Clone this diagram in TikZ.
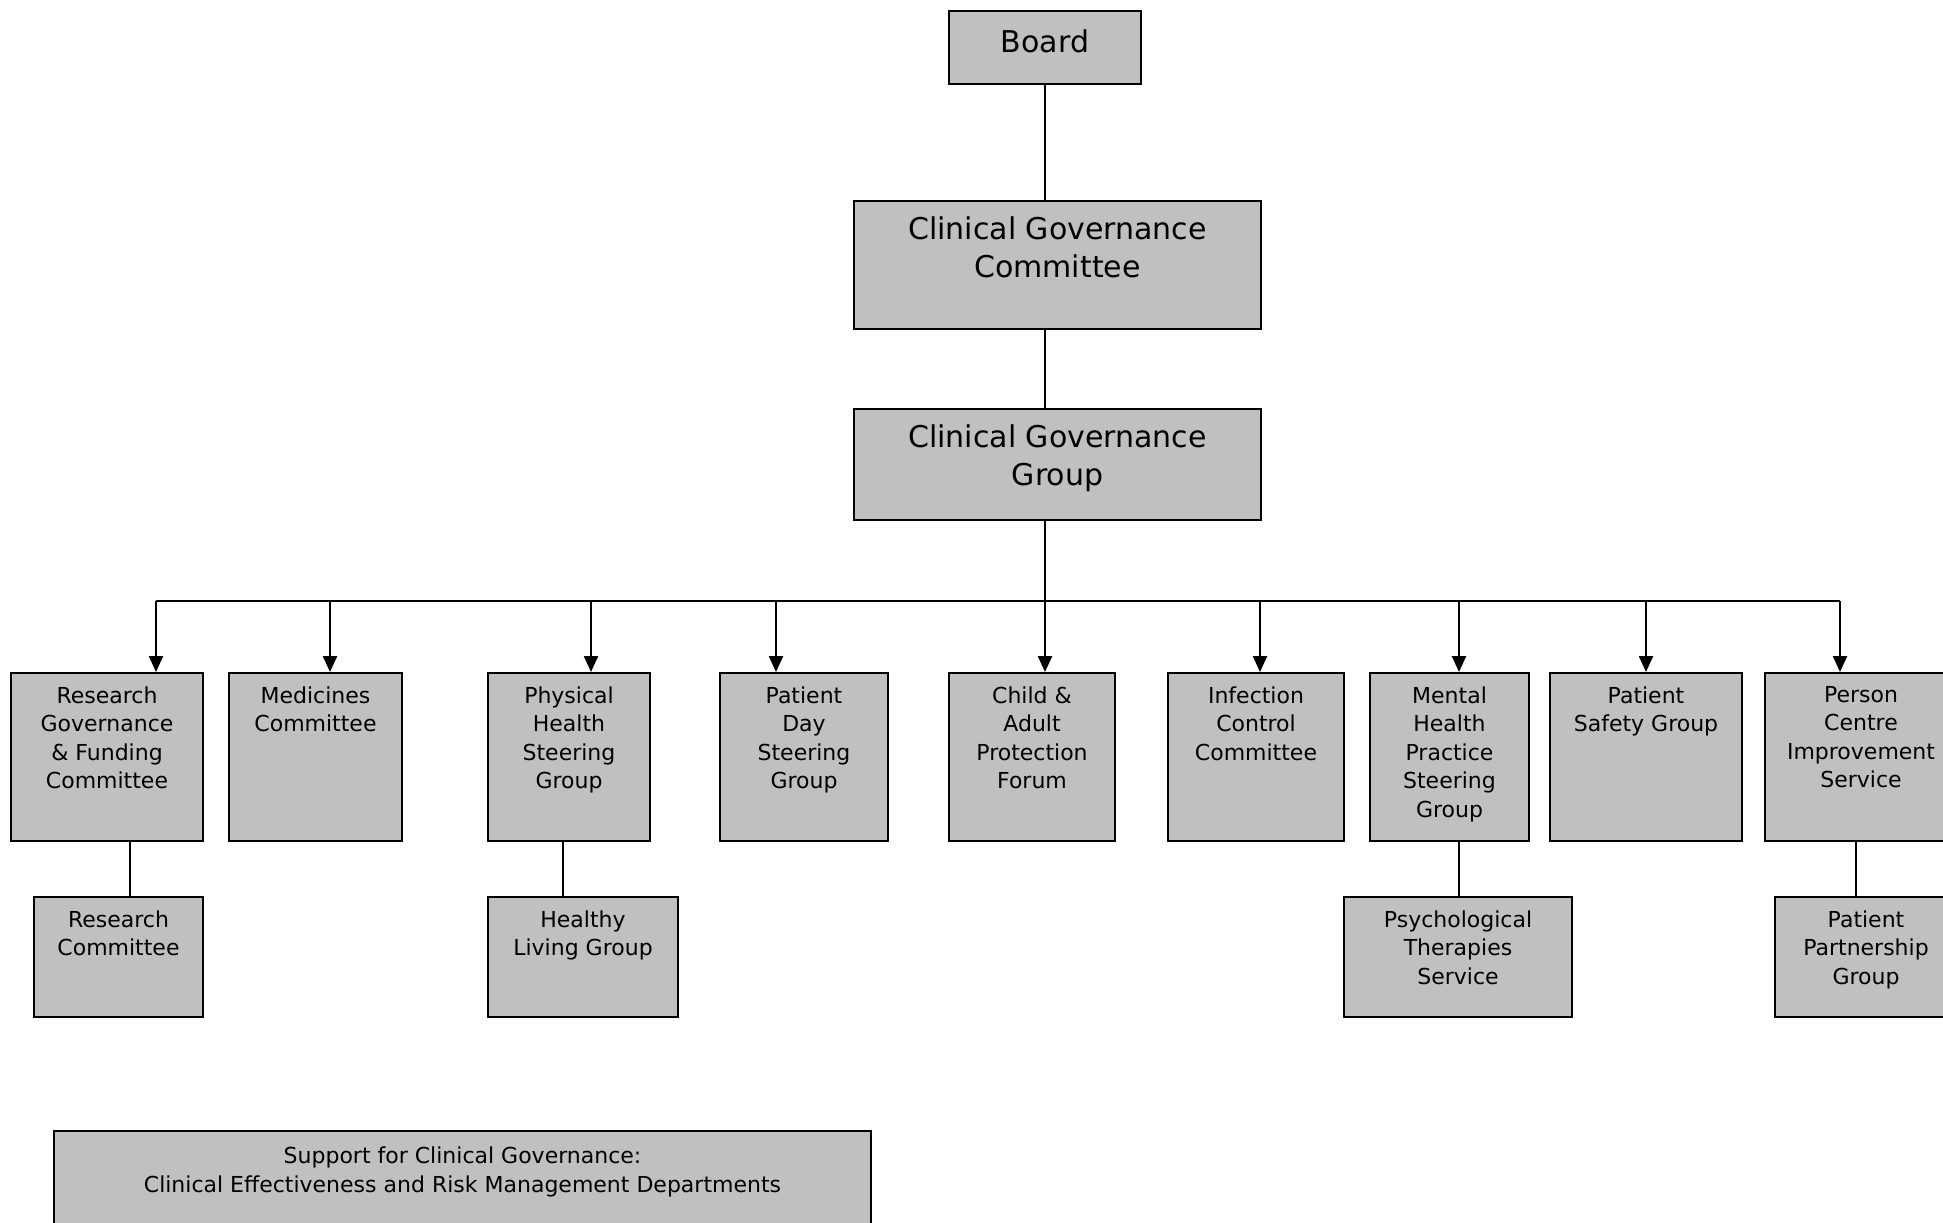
\documentclass[tikz,border=0pt]{standalone}
\usepackage{fontspec}
\setmainfont{DejaVu Sans}
\usetikzlibrary{arrows.meta}
\definecolor{boxgray}{HTML}{C0C0C0}
\begin{document}
\begin{tikzpicture}[x=0.5pt,y=-0.5pt,
  box/.style={draw=black, line width=1pt, fill=boxgray, inner sep=0pt, anchor=north west},
  txt/.style={anchor=north, align=center, inner sep=0pt, font=\fontsize{11pt}{14.25pt}\selectfont},
  bigtxt/.style={anchor=north, align=center, inner sep=0pt, font=\fontsize{15pt}{19.25pt}\selectfont},
  conn/.style={line width=0.75pt},
  subconn/.style={line width=0.65pt},
  busline/.style={line width=1.2pt},
  arr/.style={line width=1.2pt, -{Triangle[width=7pt,length=8pt]}}]
\useasboundingbox[fill=white] (0,0) rectangle (1943,1222);

% top boxes
\node[box, minimum width=96pt, minimum height=36.5pt] (board) at (948,10) {};
\node[bigtxt] (board-t) at ([yshift=-9.5pt]board.north) {Board};
\node[box, minimum width=203.5pt, minimum height=64pt] (cgc) at (853,200) {};
\node[bigtxt] (cgc-t) at ([yshift=-8pt]cgc.north) {Clinical Governance\\Committee};
\node[box, minimum width=203.5pt, minimum height=55.5pt] (cgg) at (853,408) {};
\node[bigtxt] (cgg-t) at ([yshift=-8pt]cgg.north) {Clinical Governance\\Group};

% row 1
\node[box, minimum width=96pt,   minimum height=84pt] (rgf) at (10,672) {};
\node[box, minimum width=86.5pt, minimum height=84pt] (med) at (228,672) {};
\node[box, minimum width=81pt,   minimum height=84pt] (phs) at (487,672) {};
\node[box, minimum width=84pt,   minimum height=84pt] (pds) at (719,672) {};
\node[box, minimum width=83pt,   minimum height=84pt] (cap) at (948,672) {};
\node[box, minimum width=88pt,   minimum height=84pt] (icc) at (1167,672) {};
\node[box, minimum width=79.5pt, minimum height=84pt] (mhp) at (1369,672) {};
\node[box, minimum width=96pt,   minimum height=84pt] (psg) at (1549,672) {};
\node[box, minimum width=96pt,   minimum height=84pt] (pci) at (1764,672) {};

\node[txt] (rgf-t) at ([yshift=-7pt]rgf.north) {Research\\Governance\\\& Funding\\Committee};
\node[txt] (med-t) at ([yshift=-7pt]med.north) {Medicines\\Committee};
\node[txt] (phs-t) at ([yshift=-7pt]phs.north) {Physical\\Health\\Steering\\Group};
\node[txt] (pds-t) at ([yshift=-7pt]pds.north) {Patient\\Day\\Steering\\Group};
\node[txt] (cap-t) at ([yshift=-7pt]cap.north) {Child \&\\Adult\\Protection\\Forum};
\node[txt] (icc-t) at ([yshift=-7pt]icc.north) {Infection\\Control\\Committee};
\node[txt] (mhp-t) at ([yshift=-7pt]mhp.north) {Mental\\Health\\Practice\\Steering\\Group};
\node[txt] (psg-t) at ([yshift=-7pt]psg.north) {Patient\\Safety Group};
\node[txt] (pci-t) at ([yshift=-7pt]pci.north) {Person\\Centre\\Improvement\\Service};

% row 2
\node[box, minimum width=84.5pt, minimum height=60pt] (rc)  at (33,896) {};
\node[box, minimum width=95pt,   minimum height=60pt] (hlg) at (487,896) {};
\node[box, minimum width=114pt,  minimum height=60pt] (ptg) at (1343,896) {};
\node[box, minimum width=91pt,   minimum height=60pt] (ppg) at (1774,896) {};

\node[txt] (rc-t)  at ([yshift=-7pt]rc.north)  {Research\\Committee};
\node[txt] (hlg-t) at ([yshift=-7pt]hlg.north) {Healthy\\Living Group};
\node[txt] (ptg-t) at ([yshift=-7pt]ptg.north) {Psychological\\Therapies\\Service};
\node[txt] (ppg-t) at ([yshift=-7pt]ppg.north) {Patient\\Partnership\\Group};

% bottom support box
\node[box, minimum width=408.5pt, minimum height=60pt] (sup) at (53,1130) {};
\node[txt, font=\fontsize{11pt}{14.5pt}\selectfont] (sup-t) at ([yshift=-8pt]sup.north) {Support for Clinical Governance:\\Clinical Effectiveness and Risk Management Departments};

% vertical spine
\coordinate (spine) at (1045,0);
\draw[conn] (board.south -| spine) -- (cgc.north -| spine);
\draw[conn] (cgc.south -| spine) -- (cgg.north -| spine);

% bus
\coordinate (b1) at (156,601);
\coordinate (b2) at (330,601);
\coordinate (b3) at (591,601);
\coordinate (b4) at (776,601);
\coordinate (b5) at (1045,601);
\coordinate (b6) at (1260,601);
\coordinate (b7) at (1459,601);
\coordinate (b8) at (1646,601);
\coordinate (b9) at (1840,601);
\draw[conn] (cgg.south -| b5) -- (b5);
\draw[busline] (b1) -- (b9);
\draw[arr] (b1) -- (rgf.north -| b1);
\draw[arr] (b2) -- (med.north -| b2);
\draw[arr] (b3) -- (phs.north -| b3);
\draw[arr] (b4) -- (pds.north -| b4);
\draw[arr] (b5) -- (cap.north -| b5);
\draw[arr] (b6) -- (icc.north -| b6);
\draw[arr] (b7) -- (mhp.north -| b7);
\draw[arr] (b8) -- (psg.north -| b8);
\draw[arr] (b9) -- (pci.north -| b9);

% sub connectors
\coordinate (s1) at (130,0);
\coordinate (s2) at (563,0);
\coordinate (s3) at (1459,0);
\coordinate (s4) at (1856,0);
\draw[subconn] (rgf.south -| s1) -- (rc.north -| s1);
\draw[subconn] (phs.south -| s2) -- (hlg.north -| s2);
\draw[subconn] (mhp.south -| s3) -- (ptg.north -| s3);
\draw[subconn] (pci.south -| s4) -- (ppg.north -| s4);
\end{tikzpicture}
\end{document}
